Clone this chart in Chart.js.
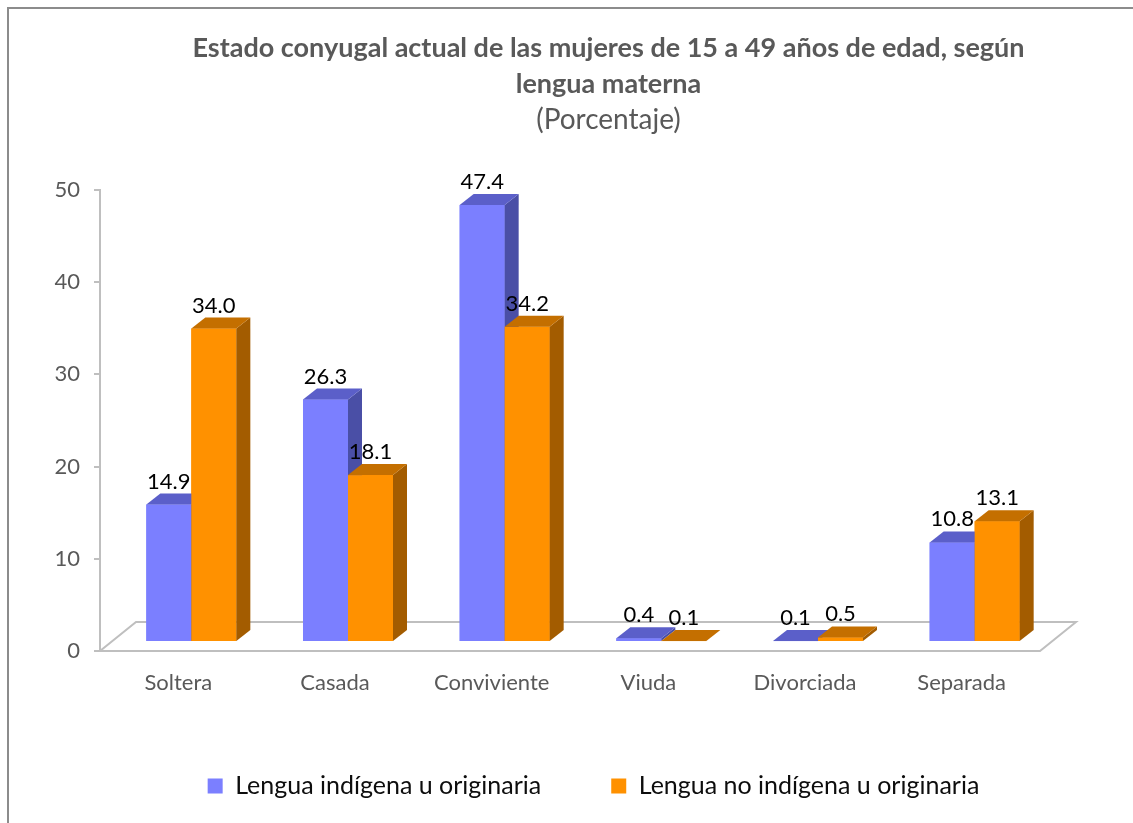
<!DOCTYPE html>
<html>
<head>
<meta charset="utf-8">
<script src="https://cdn.jsdelivr.net/npm/chart.js@4.4.0/dist/chart.umd.min.js"></script>
<style>
  html, body { margin: 0; padding: 0; background: #fff; overflow: hidden; }
  #wrap { position: relative; width: 1133px; height: 823px; }
  #frame { position: absolute; left: 7px; top: 7px; width: 1200px; height: 900px;
           border-left: 2px solid #8c8c8c; border-top: 2px solid #8c8c8c; pointer-events: none; }
</style>
</head>
<body>
<div id="wrap">
  <canvas id="myChart" width="1133" height="823"></canvas>
  <div id="frame"></div>
</div>
<script>
var categorias = ["Soltera", "Casada", "Conviviente", "Viuda", "Divorciada", "Separada"];
var indigena = [14.9, 26.3, 47.4, 0.4, 0.1, 10.8];
var noIndigena = [34.0, 18.1, 34.2, 0.1, 0.5, 13.1];
var ticksY = [0, 10, 20, 30, 40, 50];

// desplazamiento de las barras sobre el piso y profundidad 3D
var DX = 13, DY = -9;
var PX = 14, PY = -11;
var PISO_X = 36, PISO_Y = -29;
var CORRE_TITULO = 15; // el titulo va algo a la derecha del centro

var caras = [
  { frente: "#7b7fff", techo: "#5b5fc9", lado: "#4a4fa6" },
  { frente: "#ff9100", techo: "#c46f00", lado: "#a35c00" }
];

var barras3d = {
  id: "barras3d",
  afterLayout: function (chart) {
    chart.boxes.forEach(function (b) {
      if (b.position === "top" && b.options && b.options.text !== undefined) {
        b.left += CORRE_TITULO;
        b.right += CORRE_TITULO;
      }
    });
  },
  beforeDatasetsDraw: function (chart) {
    var ctx = chart.ctx;
    var a = chart.chartArea;
    var y0 = chart.scales.y.getPixelForValue(0);
    ctx.save();
    ctx.strokeStyle = "#bfbfbf";
    ctx.lineWidth = 2;
    ctx.beginPath();
    ctx.moveTo(a.left, y0);
    ctx.lineTo(a.right, y0);
    ctx.lineTo(a.right + PISO_X, y0 + PISO_Y);
    ctx.lineTo(a.left + PISO_X, y0 + PISO_Y);
    ctx.closePath();
    ctx.stroke();
    ctx.restore();
    ctx.save();
    ctx.translate(DX, DY);
  },
  afterDatasetsDraw: function (chart) {
    var ctx = chart.ctx;
    chart.data.datasets.forEach(function (ds, i) {
      var c = caras[i];
      chart.getDatasetMeta(i).data.forEach(function (bar) {
        var x0 = bar.x - bar.width / 2, x1 = bar.x + bar.width / 2;
        var top = bar.y, base = bar.base;
        ctx.fillStyle = c.frente;
        ctx.fillRect(x0, top, x1 - x0, base - top);
        ctx.fillStyle = c.lado;
        ctx.beginPath();
        ctx.moveTo(x1, top);
        ctx.lineTo(x1 + PX, top + PY);
        ctx.lineTo(x1 + PX, base + PY);
        ctx.lineTo(x1, base);
        ctx.closePath();
        ctx.fill();
        ctx.fillStyle = c.techo;
        ctx.beginPath();
        ctx.moveTo(x0, top);
        ctx.lineTo(x1, top);
        ctx.lineTo(x1 + PX, top + PY);
        ctx.lineTo(x0 + PX, top + PY);
        ctx.closePath();
        ctx.fill();
      });
    });
    // etiquetas de valor
    ctx.fillStyle = "#000";
    ctx.font = "22px Lato";
    ctx.textAlign = "center";
    ctx.textBaseline = "alphabetic";
    chart.data.datasets.forEach(function (ds, i) {
      chart.getDatasetMeta(i).data.forEach(function (bar, j) {
        ctx.fillText(ds.data[j].toFixed(1), bar.x, bar.y + PY - 5);
      });
    });
    ctx.restore();
  }
};

var ctx = document.getElementById("myChart").getContext("2d");
var myChart = new Chart(ctx, {
  type: "bar",
  data: {
    labels: categorias,
    datasets: [
      {
        label: "Lengua indígena u originaria",
        data: indigena,
        backgroundColor: caras[0].frente,
        categoryPercentage: 0.5745,
        barPercentage: 1
      },
      {
        label: "Lengua no indígena u originaria",
        data: noIndigena,
        backgroundColor: caras[1].frente,
        categoryPercentage: 0.5745,
        barPercentage: 1
      }
    ]
  },
  options: {
    responsive: false,
    animation: false,
    layout: { padding: { left: 54, right: 0, top: 10, bottom: 14.5 } },
    plugins: {
      title: {
        display: true,
        text: ["Estado conyugal actual de las mujeres de 15 a 49 años de edad, según", "lengua materna"],
        color: "#595959",
        font: { family: "Lato", size: 27, weight: "bold", lineHeight: 36 / 27 },
        padding: { top: 20, bottom: 0 }
      },
      subtitle: {
        display: true,
        text: "(Porcentaje)",
        color: "#595959",
        font: { family: "Lato", size: 28, lineHeight: 36 / 28 },
        padding: { top: 0, bottom: 52 }
      },
      legend: {
        position: "bottom",
        labels: {
          boxWidth: 15,
          boxHeight: 15,
          padding: 70,
          color: "#0d0d0d",
          font: { family: "Lato", size: 25 }
        }
      },
      tooltip: { enabled: false }
    },
    scales: {
      x: {
        grid: { display: false, drawTicks: false },
        border: { display: false },
        ticks: { color: "#595959", font: { family: "Lato", size: 22 }, padding: 19 },
        afterFit: function (s) { s.height = 52.5; }
      },
      y: {
        min: 0,
        max: 50,
        afterBuildTicks: function (s) { s.ticks = ticksY.map(function (v) { return { value: v }; }); },
        grid: { drawOnChartArea: false, tickLength: 6, color: "#bfbfbf", lineWidth: 2 },
        border: { color: "#bfbfbf", width: 2 },
        ticks: { color: "#595959", font: { family: "Lato", size: 22 }, padding: 14 },
        afterFit: function (s) { s.width = 46; }
      },
      y2: {
        type: "linear",
        position: "right",
        grid: { display: false },
        border: { display: false },
        ticks: { display: false },
        afterFit: function (s) { s.width = 93; }
      }
    }
  },
  plugins: [barras3d]
});
</script>
</body>
</html>
